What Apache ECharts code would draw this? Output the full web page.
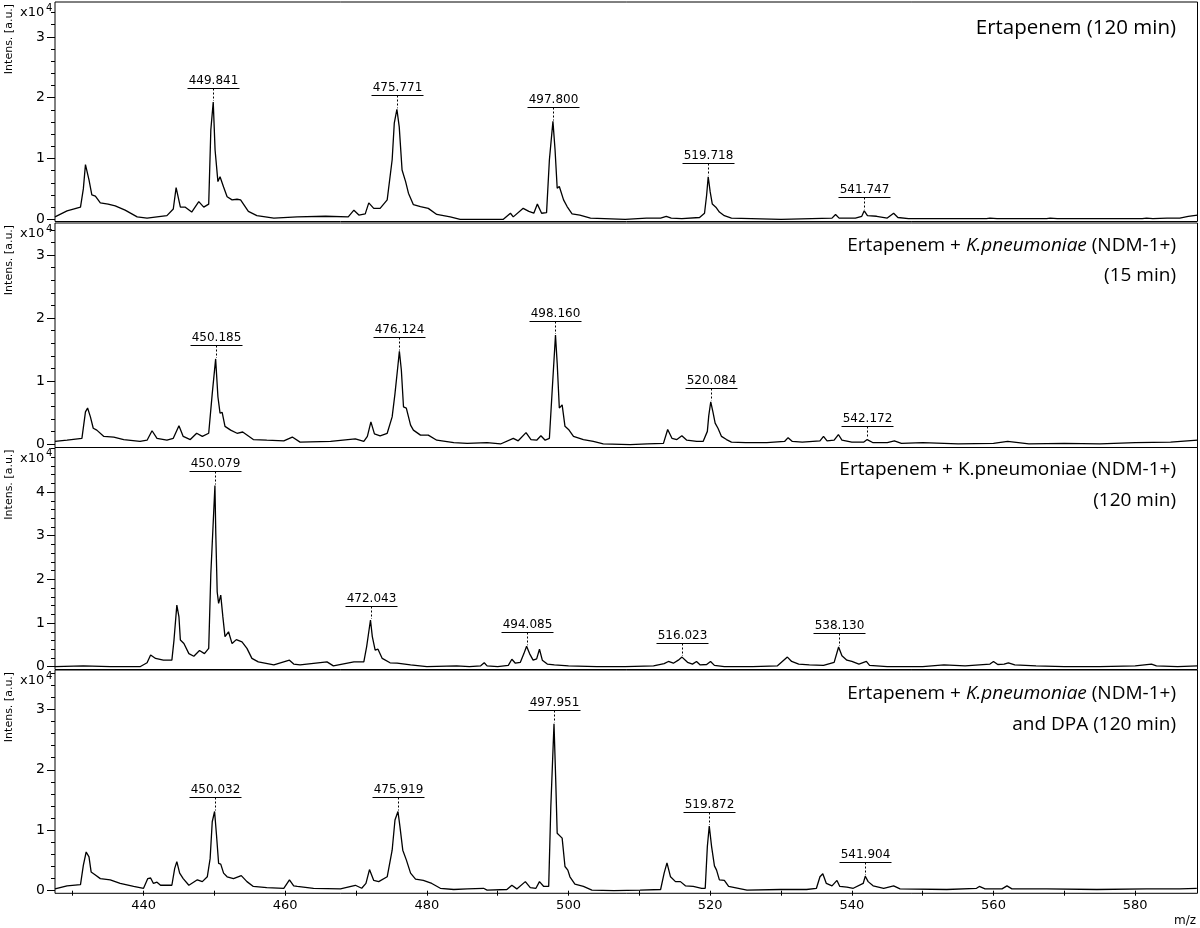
<!DOCTYPE html>
<html>
<head>
<meta charset="utf-8">
<title>Ertapenem spectra</title>
<script src="https://cdn.jsdelivr.net/npm/echarts@6/dist/echarts.min.js"></script>
<style>
  html, body { margin: 0; padding: 0; background: #fff; }
  #chart { width: 1200px; height: 928px; }
</style>
</head>
<body>
<div id="chart"></div>
<script>
// spectra: [m/z, intensity x10^4]
const spectrum120 = [
  [427.5,0.04],[429.2,0.14],[431.1,0.2],[431.5,0.5],[431.8,0.9],[432.3,0.65],[432.7,0.4],[433.2,0.38],[433.9,0.27],[435,0.25],
  [436,0.22],[437.4,0.15],[439.1,0.04],[440.5,0.02],[443.3,0.06],[444.2,0.17],[444.6,0.52],[445.2,0.2],[445.9,0.2],[446.8,0.12],
  [447.8,0.29],[448.5,0.2],[449.2,0.25],[449.5,1.47],[449.84,1.93],[450.1,1.14],[450.5,0.62],[450.8,0.7],[451.3,0.53],[451.8,0.37],
  [452.5,0.32],[453.2,0.33],[453.7,0.32],[454.8,0.13],[456,0.06],[458.4,0.02],[461.7,0.04],[465.7,0.05],[468.9,0.04],[469.7,0.15],
  [470.4,0.07],[471.3,0.09],[471.8,0.27],[472.5,0.18],[473.4,0.18],[474.4,0.32],[475.1,0.98],[475.4,1.58],[475.77,1.81],[476.1,1.52],
  [476.5,0.81],[477,0.62],[477.4,0.43],[478.1,0.24],[479.1,0.21],[480.2,0.18],[481.4,0.08],[483.3,0.04],[484.7,0],[490.8,0],
  [491.8,0.1],[492.2,0.04],[493.6,0.18],[494.4,0.13],[495.1,0.1],[495.6,0.25],[496.2,0.1],[496.9,0.11],[497.3,0.98],[497.8,1.61],
  [498.1,1.14],[498.4,0.51],[498.7,0.54],[499.3,0.32],[499.8,0.21],[500.5,0.09],[501.6,0.07],[503.1,0.02],[508,0],[511,0.02],
  [513,0.02],[513.8,0.05],[514.5,0.02],[516,0.01],[518.5,0.03],[519.2,0.1],[519.5,0.4],[519.72,0.7],[520,0.45],[520.3,0.25],
  [520.8,0.2],[521.3,0.12],[522,0.06],[523,0.02],[530,0],[537.2,0.02],[537.7,0.08],[538.2,0.02],[540.5,0.02],[541.4,0.05],
  [541.75,0.14],[542.2,0.06],[543.5,0.05],[545,0.02],[545.9,0.1],[546.5,0.03],[548,0.01],[559,0.01],[559.5,0.02],[560.5,0.01],
  [567.5,0.01],[568,0.02],[569,0.01],[581,0.01],[581.6,0.02],[582.5,0.01],[584.5,0.02],[586.3,0.02],[587.5,0.05],[588.8,0.07]
];
const spectrumKp15 = [
  [427.5,0.04],[429.2,0.06],[431.3,0.09],[431.8,0.51],[432.1,0.57],[432.5,0.43],[432.9,0.25],[433.4,0.22],[434.4,0.12],[435.8,0.11],
  [437.2,0.07],[439.5,0.04],[440.5,0.06],[441.2,0.21],[441.9,0.09],[443.3,0.06],[444.2,0.09],[445,0.29],[445.6,0.12],[446.6,0.07],
  [447.5,0.17],[448.3,0.12],[449.2,0.17],[449.7,0.8],[450.18,1.35],[450.5,0.75],[450.8,0.49],[451.1,0.5],[451.5,0.28],[452.3,0.22],
  [453.2,0.17],[454,0.19],[455.5,0.07],[457.4,0.06],[459.8,0.05],[461,0.11],[462.1,0.03],[466.4,0.04],[469.9,0.08],[471.1,0.04],
  [471.6,0.12],[472.1,0.35],[472.6,0.16],[473.4,0.13],[474.4,0.17],[475.1,0.43],[475.5,0.8],[475.9,1.23],[476.12,1.47],[476.4,1.17],
  [476.7,0.59],[477.1,0.57],[477.7,0.3],[478.1,0.22],[479.1,0.14],[480.2,0.14],[481.4,0.06],[483.8,0.02],[485.7,0.01],[488.5,0.02],
  [490.4,0],[492.2,0.09],[492.9,0.05],[494,0.18],[494.7,0.07],[495.5,0.06],[496.1,0.13],[496.7,0.06],[497.3,0.09],[497.7,0.86],
  [498.16,1.73],[498.4,1.28],[498.7,0.57],[499.1,0.62],[499.5,0.28],[500,0.23],[500.7,0.12],[502.1,0.07],[503.5,0.04],[504.9,0],
  [508.7,-0.01],[511.1,0],[513.4,0.01],[514,0.23],[514.6,0.09],[515.3,0.07],[516,0.13],[516.7,0.06],[518.1,0.04],[519,0.04],
  [519.6,0.2],[519.8,0.45],[520.08,0.67],[520.4,0.5],[520.7,0.33],[521.1,0.25],[521.6,0.12],[522.3,0.07],[523,0.03],[525,0.02],
  [528,0.02],[530.5,0.04],[531,0.1],[531.6,0.04],[533,0.03],[535.5,0.05],[536,0.12],[536.5,0.05],[537.5,0.06],[538.1,0.15],
  [538.6,0.06],[540,0.03],[541.7,0.03],[542.17,0.07],[543,0.02],[545,0.02],[546,0.05],[547,0.01],[550,0.02],[555,0],
  [560,0.01],[562,0.04],[565,0],[570,0.01],[575,0],[580,0.02],[585,0.03],[588.8,0.06]
];
const spectrumKp120 = [
  [427.5,0],[431.5,0.02],[435.3,0],[439.5,0],[440.5,0.09],[441,0.27],[441.7,0.19],[442.8,0.15],[444,0.15],[444.3,0.61],
  [444.7,1.41],[445,1.14],[445.2,0.61],[445.7,0.53],[446.4,0.3],[447.1,0.24],[447.9,0.37],[448.6,0.3],[449.2,0.42],[449.5,2.13],
  [450.08,4.15],[450.2,3.05],[450.4,1.71],[450.6,1.45],[450.9,1.64],[451.2,1.14],[451.5,0.69],[452,0.8],[452.5,0.53],[453.1,0.62],
  [453.9,0.57],[454.6,0.42],[455.3,0.19],[456.2,0.11],[458.4,0.04],[460.6,0.15],[461.2,0.06],[462.1,0.04],[465.9,0.11],[466.8,0.02],
  [469.7,0.11],[471.1,0.11],[471.5,0.46],[472.04,1.07],[472.3,0.69],[472.7,0.38],[473.1,0.4],[473.7,0.19],[474.8,0.09],[475.8,0.08],
  [477.7,0.04],[480,0],[484.2,0.02],[486,0],[487.6,0.02],[488.1,0.09],[488.5,0.02],[490,0],[491.5,0.03],[492,0.17],
  [492.5,0.08],[493.2,0.1],[493.7,0.3],[494.08,0.47],[494.5,0.3],[495,0.15],[495.5,0.18],[495.9,0.4],[496.3,0.15],[497,0.06],
  [498,0.04],[500,0.02],[504,0],[508,0],[512,0.02],[513.5,0.07],[514.1,0.12],[514.8,0.08],[515.5,0.15],[516.02,0.22],
  [516.8,0.1],[517.5,0.06],[518.07,0.12],[518.6,0.04],[519.5,0.05],[520.05,0.12],[520.6,0.03],[522,0],[526,0],[529.5,0.02],
  [530.9,0.22],[531.5,0.12],[532.5,0.06],[534,0.04],[536,0.03],[537.5,0.1],[538.13,0.45],[538.6,0.25],[539.3,0.15],[540,0.12],
  [541,0.06],[542.05,0.12],[542.5,0.03],[545,0],[550,0],[553,0.04],[556,0.02],[559.5,0.06],[560,0.12],[560.6,0.05],
  [561.5,0.06],[562.1,0.09],[563,0.04],[566,0.02],[570,0],[575,0],[580,0.02],[582.3,0.06],[583,0.02],[586,0],[588.8,0.02]
];
const spectrumKpDpa = [
  [427.5,0.03],[429.2,0.08],[431.1,0.1],[431.5,0.42],[431.9,0.64],[432.3,0.56],[432.6,0.31],[433.2,0.26],[433.9,0.2],[435.3,0.18],
  [436.7,0.12],[438.6,0.07],[440,0.04],[440.6,0.2],[441,0.21],[441.4,0.12],[441.9,0.14],[442.4,0.09],[444,0.09],[444.4,0.37],
  [444.7,0.48],[445.1,0.29],[445.6,0.2],[446.4,0.09],[447.6,0.18],[448.3,0.15],[449,0.23],[449.4,0.53],[449.7,1.14],[450.03,1.31],
  [450.3,0.92],[450.6,0.45],[450.9,0.44],[451.3,0.29],[451.8,0.23],[452.7,0.2],[453.8,0.25],[454.6,0.15],[455.5,0.07],[457.4,0.05],
  [459.8,0.04],[460.6,0.18],[461.2,0.08],[461.7,0.07],[464,0.04],[467.8,0.03],[469.9,0.09],[470.8,0.04],[471.4,0.12],[471.9,0.35],
  [472.5,0.17],[473.2,0.15],[474.4,0.23],[475.1,0.67],[475.5,1.17],[475.92,1.31],[476.2,1.06],[476.6,0.67],[477.1,0.51],[477.7,0.29],
  [478.4,0.19],[479.5,0.17],[480.7,0.12],[481.9,0.04],[483.8,0.02],[485.7,0.03],[488,0.04],[488.5,0.01],[491.3,0.02],[492,0.09],
  [492.7,0.03],[493.9,0.15],[494.6,0.05],[495.4,0.04],[495.9,0.15],[496.5,0.07],[497.2,0.07],[497.5,1.39],[497.95,2.76],[498.2,1.8],
  [498.4,0.95],[499.1,0.87],[499.5,0.4],[499.9,0.34],[500.2,0.23],[500.9,0.11],[502.1,0.07],[503.3,0.01],[506.4,0],[510.1,0.01],
  [513,0.02],[513.5,0.29],[513.9,0.46],[514.4,0.23],[515.1,0.15],[515.8,0.15],[516.5,0.08],[517.6,0.07],[518.8,0.04],[519.3,0.04],
  [519.6,0.73],[519.87,1.07],[520.2,0.73],[520.6,0.41],[520.9,0.34],[521.3,0.18],[522,0.17],[522.6,0.07],[525.2,0.01],[529.9,0.02],
  [533.6,0.02],[535,0.04],[535.5,0.23],[535.9,0.28],[536.4,0.12],[537.2,0.08],[537.9,0.17],[538.3,0.07],[539.3,0.06],[540.2,0.04],
  [541.6,0.12],[541.9,0.24],[542.3,0.15],[543,0.08],[544.5,0.04],[545.9,0.08],[546.8,0.03],[553.4,0.02],[557.6,0.04],[558,0.07],
  [558.8,0.03],[561.2,0.03],[561.9,0.08],[562.6,0.03],[567.5,0.03],[574.6,0.02],[581.6,0.03],[586.3,0.03],[588.7,0.04]
];

// labelled peaks: [m/z, apex intensity x10^4]
const peaks120 = [[449.841,1.93],[475.771,1.81],[497.800,1.61],[519.718,0.70],[541.747,0.14]];
const peaksKp15 = [[450.185,1.35],[476.124,1.47],[498.160,1.73],[520.084,0.67],[542.172,0.07]];
const peaksKp120 = [[450.079,4.15],[472.043,1.07],[494.085,0.47],[516.023,0.22],[538.130,0.45]];
const peaksKpDpa = [[450.032,1.31],[475.919,1.31],[497.951,2.76],[519.872,1.07],[541.904,0.24]];

// panel captions, [text, italic] pieces per line
const titles = [
  [[['Ertapenem (120 min)', false]]],
  [[['Ertapenem + ', false], ['K.pneumoniae', true], [' (NDM-1+)', false]], [['(15 min)', false]]],
  [[['Ertapenem + K.pneumoniae (NDM-1+)', false]], [['(120 min)', false]]],
  [[['Ertapenem + ', false], ['K.pneumoniae', true], [' (NDM-1+)', false]], [['and DPA (120 min)', false]]]
];

const xTicks = [430, 440, 450, 460, 470, 480, 490, 500, 510, 520, 530, 540, 550, 560, 570, 580];
const xLabels = [440, 460, 480, 500, 520, 540, 560, 580];
const yMajor = [[0, 1, 2, 3], [0, 1, 2, 3], [0, 1, 2, 3, 4], [0, 1, 2, 3]];

const spectra = [spectrum120, spectrumKp15, spectrumKp120, spectrumKpDpa];
const peaks = [peaks120, peaksKp15, peaksKp120, peaksKpDpa];

// layout of the four stacked panels (pixels) and their intensity ranges
const panels = [
  { top: 2, bottom: 221.5, min: -0.036, max: 3.574, titleY: [28], titleSize: 20.5 },
  { top: 223, bottom: 447.5, min: -0.056, max: 3.508, titleY: [246, 276], titleSize: 19 },
  { top: 447.5, bottom: 669.5, min: -0.064, max: 5.02, titleY: [470, 501], titleSize: 19 },
  { top: 670, bottom: 893.3, min: -0.043, max: 3.65, titleY: [694, 725], titleSize: 19 }
];
const LEFT = 55;
const RIGHT = 2.5;
const FONT = 'DejaVu Sans';
const TITLE_FONT = 'Open Sans';

const chart = echarts.init(document.getElementById('chart'));

function minorTicks(max) {
  const out = [];
  for (let i = 0; i * 0.2 < max; i++) out.push(Math.round(i * 2) / 10);
  return out;
}

function renderPeakLabel(params, api) {
  const mz = api.value(0);
  const pt = api.coord([mz, api.value(1)]);
  const x = Math.round(pt[0]) + 0.5;
  const yBar = Math.round(pt[1]) - 13.5;
  return {
    type: 'group',
    children: [
      { type: 'line', shape: { x1: x, y1: yBar, x2: x, y2: pt[1] - 1 }, style: { stroke: '#000', lineWidth: 1, lineDash: [2, 2] } },
      { type: 'line', shape: { x1: x - 26, y1: yBar, x2: x + 26, y2: yBar }, style: { stroke: '#000', lineWidth: 1 } },
      { type: 'text', style: { text: mz.toFixed(3), x: x, y: yBar - 2, align: 'center', verticalAlign: 'bottom', fontFamily: FONT, fontSize: 12, fill: '#000' } }
    ]
  };
}

const grid = [];
const xAxis = [];
const yAxis = [];
const series = [];
const graphic = [];

panels.forEach((p, i) => {
  const last = i === panels.length - 1;
  grid.push({
    left: LEFT, right: RIGHT, top: p.top, height: p.bottom - p.top,
    show: true, borderColor: '#000', borderWidth: 1, backgroundColor: 'transparent'
  });
  xAxis.push({
    gridIndex: i, type: 'value', min: 427.5, max: 588.8,
    axisLine: { show: false },
    splitLine: { show: false },
    axisTick: { show: last, customValues: xTicks, length: 5, lineStyle: { color: '#000' } },
    axisLabel: { show: last, customValues: xLabels, margin: 6, fontFamily: FONT, fontSize: 13, color: '#000' }
  });
  // minor ticks
  yAxis.push({
    gridIndex: i, type: 'value', position: 'left', min: p.min, max: p.max,
    axisLine: { show: false }, splitLine: { show: false },
    axisTick: { show: true, customValues: minorTicks(p.max), length: 4, lineStyle: { color: '#000' } },
    axisLabel: { show: false }
  });
  // major ticks + labels
  yAxis.push({
    gridIndex: i, type: 'value', position: 'left', min: p.min, max: p.max,
    axisLine: { show: false }, splitLine: { show: false },
    axisTick: { show: true, customValues: yMajor[i], length: 8, lineStyle: { color: '#000' } },
    axisLabel: { customValues: yMajor[i], margin: 10, fontFamily: FONT, fontSize: 14, color: '#000' }
  });
  series.push({
    type: 'line', xAxisIndex: i, yAxisIndex: 2 * i + 1,
    data: spectra[i], showSymbol: false, silent: true, animation: false,
    lineStyle: { color: '#000', width: 1.3 }
  });
  series.push({
    type: 'custom', xAxisIndex: i, yAxisIndex: 2 * i + 1,
    data: peaks[i], encode: { x: 0, y: 1 }, clip: false, silent: true, animation: false, z: 5,
    renderItem: renderPeakLabel
  });

  graphic.push({ type: 'text', x: 20, y: p.top + 11, style: { text: 'x10', fontFamily: FONT, fontSize: 13, fill: '#000', align: 'left', verticalAlign: 'middle' } });
  graphic.push({ type: 'text', x: 46, y: p.top + 6, style: { text: '4', fontFamily: FONT, fontSize: 10, fill: '#000', align: 'left', verticalAlign: 'middle' } });
  graphic.push({
    type: 'text', x: 9, y: p.top + 37, rotation: Math.PI / 2,
    style: { text: 'Intens. [a.u.]', fontFamily: FONT, fontSize: 11, fill: '#000', align: 'center', verticalAlign: 'middle' }
  });
  titles[i].forEach((line, li) => {
    const rich = line.map(seg => '{' + (seg[1] ? 'i' : 'n') + '|' + seg[0] + '}').join('');
    graphic.push({
      type: 'text', x: 1176, y: p.titleY[li],
      style: {
        text: rich, align: 'right', verticalAlign: 'middle', fill: '#000',
        rich: {
          n: { fontFamily: TITLE_FONT, fontSize: p.titleSize, color: '#000' },
          i: { fontFamily: TITLE_FONT, fontSize: p.titleSize, fontStyle: 'italic', color: '#000' }
        }
      }
    });
  });
});

graphic.push({ type: 'text', x: 1196, y: 921, style: { text: 'm/z', fontFamily: FONT, fontSize: 12, fill: '#000', align: 'right', verticalAlign: 'middle' } });

chart.setOption({
  animation: false,
  backgroundColor: '#fff',
  grid: grid,
  xAxis: xAxis,
  yAxis: yAxis,
  series: series,
  graphic: graphic
});
</script>
</body>
</html>
